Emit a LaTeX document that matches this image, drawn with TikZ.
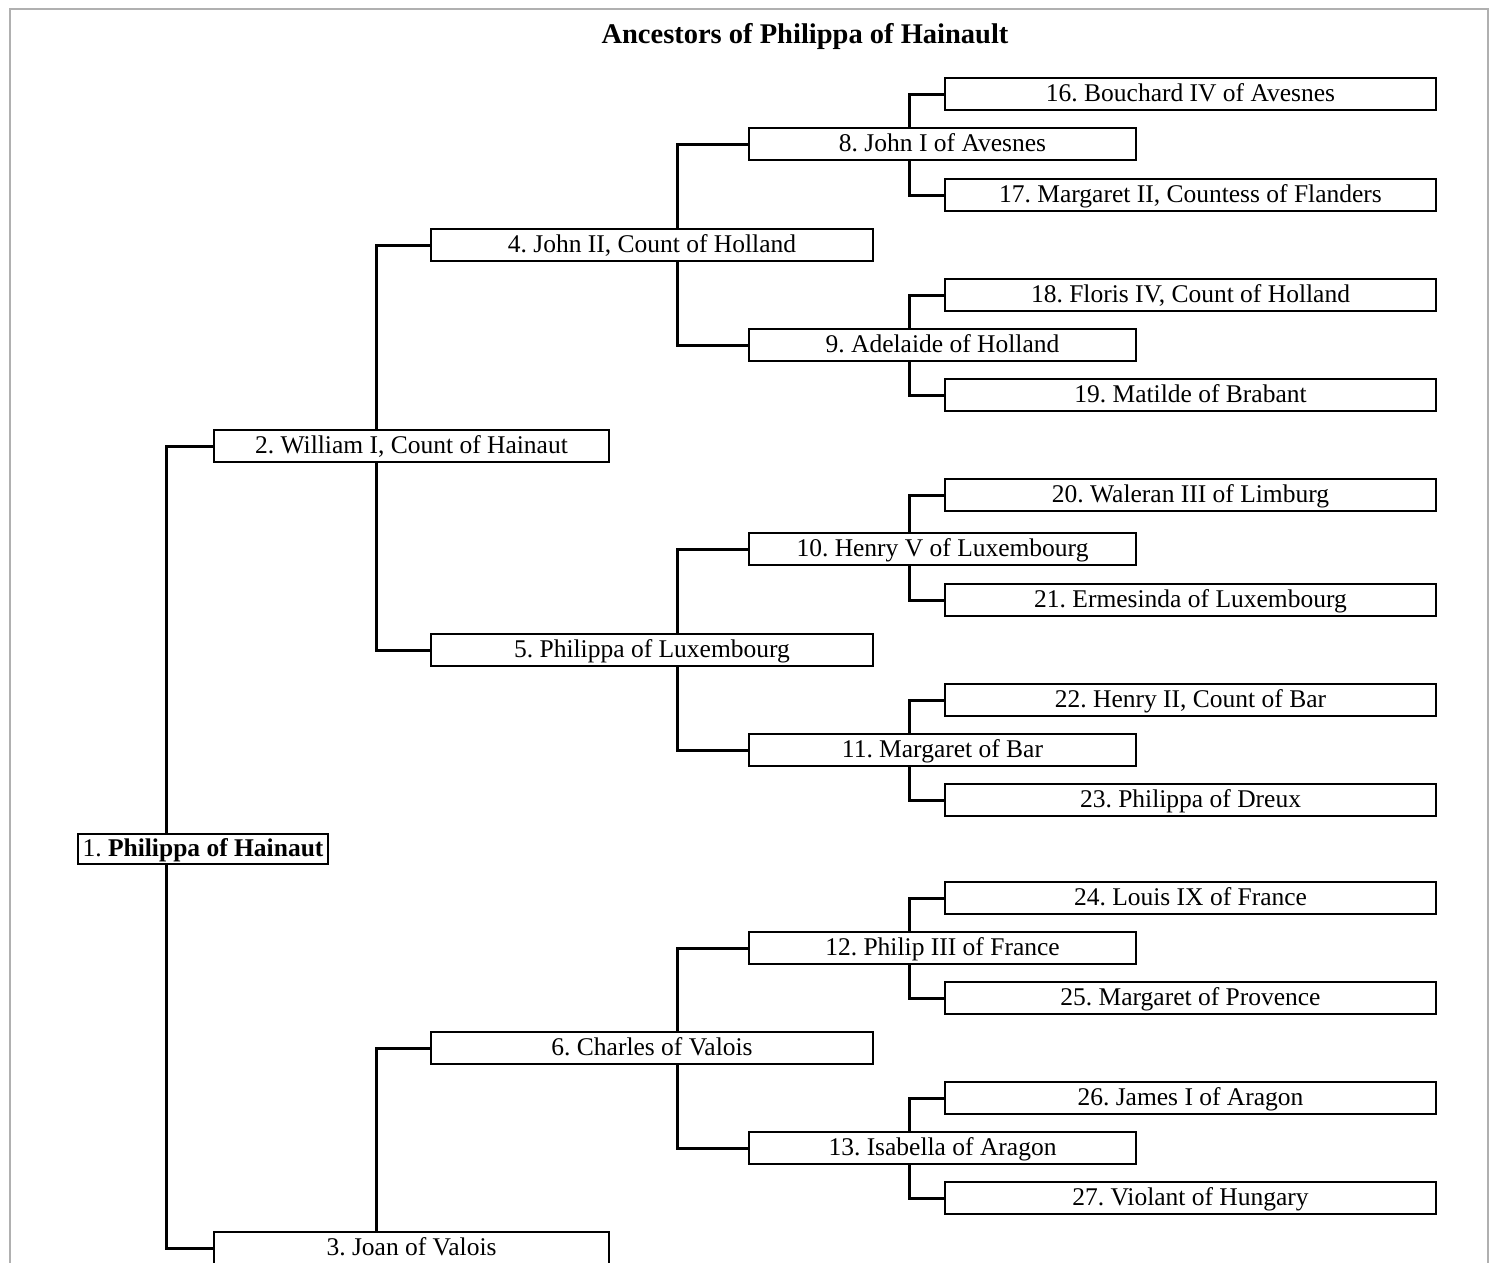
\documentclass[tikz,border=0pt]{standalone}
\usepackage{fontspec}
\setmainfont{Liberation Serif}
\usetikzlibrary{backgrounds}
\definecolor{framegray}{HTML}{B0B0B0}
\tikzset{
  box/.style={draw=black, line width=1.7pt, fill=white, inner sep=0pt,
    minimum height=32pt, text height=18pt, text depth=4pt,
    font=\fontsize{25.5}{30}\selectfont},
  gtwo/.style={box, minimum width=395pt},
  gthree/.style={box, minimum width=442pt},
  gfour/.style={box, minimum width=387pt},
  gfive/.style={box, minimum width=491pt},
  conn/.style={draw=black, line width=3pt, line join=miter},
}
\begin{document}
\frenchspacing
\begin{tikzpicture}[x=1pt,y=-1pt]
\useasboundingbox (0,0) rectangle (1497,1262);
\clip (0,0) rectangle (1497,1262);
% title
\node[font=\bfseries\fontsize{28.5}{32}\selectfont, anchor=base, inner sep=0pt] (title) at (805,43) {Ancestors of Philippa of Hainault};
% generation 1
\node[box, minimum width=250pt, minimum height=30pt] (n1) at (203,849) {1. \textbf{Philippa of Hainaut}};
% generation 2
\node[gtwo] (n2) at (411.5,446) {2. William I, Count of Hainaut};
\node[gtwo] (n3) at (411.5,1248) {3. Joan of Valois};
% generation 3
\node[gthree] (n4) at (652,245) {4. John II, Count of Holland};
\node[gthree] (n5) at (652,650) {5. Philippa of Luxembourg};
\node[gthree] (n6) at (652,1048) {6. Charles of Valois};
% generation 4
\node[gfour] (n8) at (942.5,144) {8. John I of Avesnes};
\node[gfour] (n9) at (942.5,345) {9. Adelaide of Holland};
\node[gfour] (n10) at (942.5,549) {10. Henry V of Luxembourg};
\node[gfour] (n11) at (942.5,750) {11. Margaret of Bar};
\node[gfour] (n12) at (942.5,948) {12. Philip III of France};
\node[gfour] (n13) at (942.5,1148) {13. Isabella of Aragon};
% generation 5
\node[gfive] (n16) at (1190.5,94) {16. Bouchard IV of Avesnes};
\node[gfive] (n17) at (1190.5,195) {17. Margaret II, Countess of Flanders};
\node[gfive] (n18) at (1190.5,295) {18. Floris IV, Count of Holland};
\node[gfive] (n19) at (1190.5,395) {19. Matilde of Brabant};
\node[gfive] (n20) at (1190.5,495) {20. Waleran III of Limburg};
\node[gfive] (n21) at (1190.5,600) {21. Ermesinda of Luxembourg};
\node[gfive] (n22) at (1190.5,700) {22. Henry II, Count of Bar};
\node[gfive] (n23) at (1190.5,800) {23. Philippa of Dreux};
\node[gfive] (n24) at (1190.5,898) {24. Louis IX of France};
\node[gfive] (n25) at (1190.5,998) {25. Margaret of Provence};
\node[gfive] (n26) at (1190.5,1098) {26. James I of Aragon};
\node[gfive] (n27) at (1190.5,1198) {27. Violant of Hungary};
% junctions
\coordinate (j1) at (166,849);
\coordinate (j2) at (376,446);
\coordinate (j3) at (376,1300);
\coordinate (j4) at (677.5,245);
\coordinate (j5) at (677.5,650);
\coordinate (j6) at (677.5,1048);
\coordinate (j8) at (909,144);
\coordinate (j9) at (909,345);
\coordinate (j10) at (909,549);
\coordinate (j11) at (909,750);
\coordinate (j12) at (909,948);
\coordinate (j13) at (909,1148);
\begin{pgfonlayer}{background}
  \draw[framegray, line width=1.8pt, fill=white] (10,9) rectangle (1488,1290);
  \draw[conn] (n2.west) -| (j1) |- (n3.west);
  \draw[conn] (n4.west) -| (j2) |- (n5.west);
  \draw[conn] (n6.west) -| (j3);
  \draw[conn] (n8.west) -| (j4) |- (n9.west);
  \draw[conn] (n10.west) -| (j5) |- (n11.west);
  \draw[conn] (n12.west) -| (j6) |- (n13.west);
  \draw[conn] (n16.west) -| (j8) |- (n17.west);
  \draw[conn] (n18.west) -| (j9) |- (n19.west);
  \draw[conn] (n20.west) -| (j10) |- (n21.west);
  \draw[conn] (n22.west) -| (j11) |- (n23.west);
  \draw[conn] (n24.west) -| (j12) |- (n25.west);
  \draw[conn] (n26.west) -| (j13) |- (n27.west);
\end{pgfonlayer}
\end{tikzpicture}
\end{document}
